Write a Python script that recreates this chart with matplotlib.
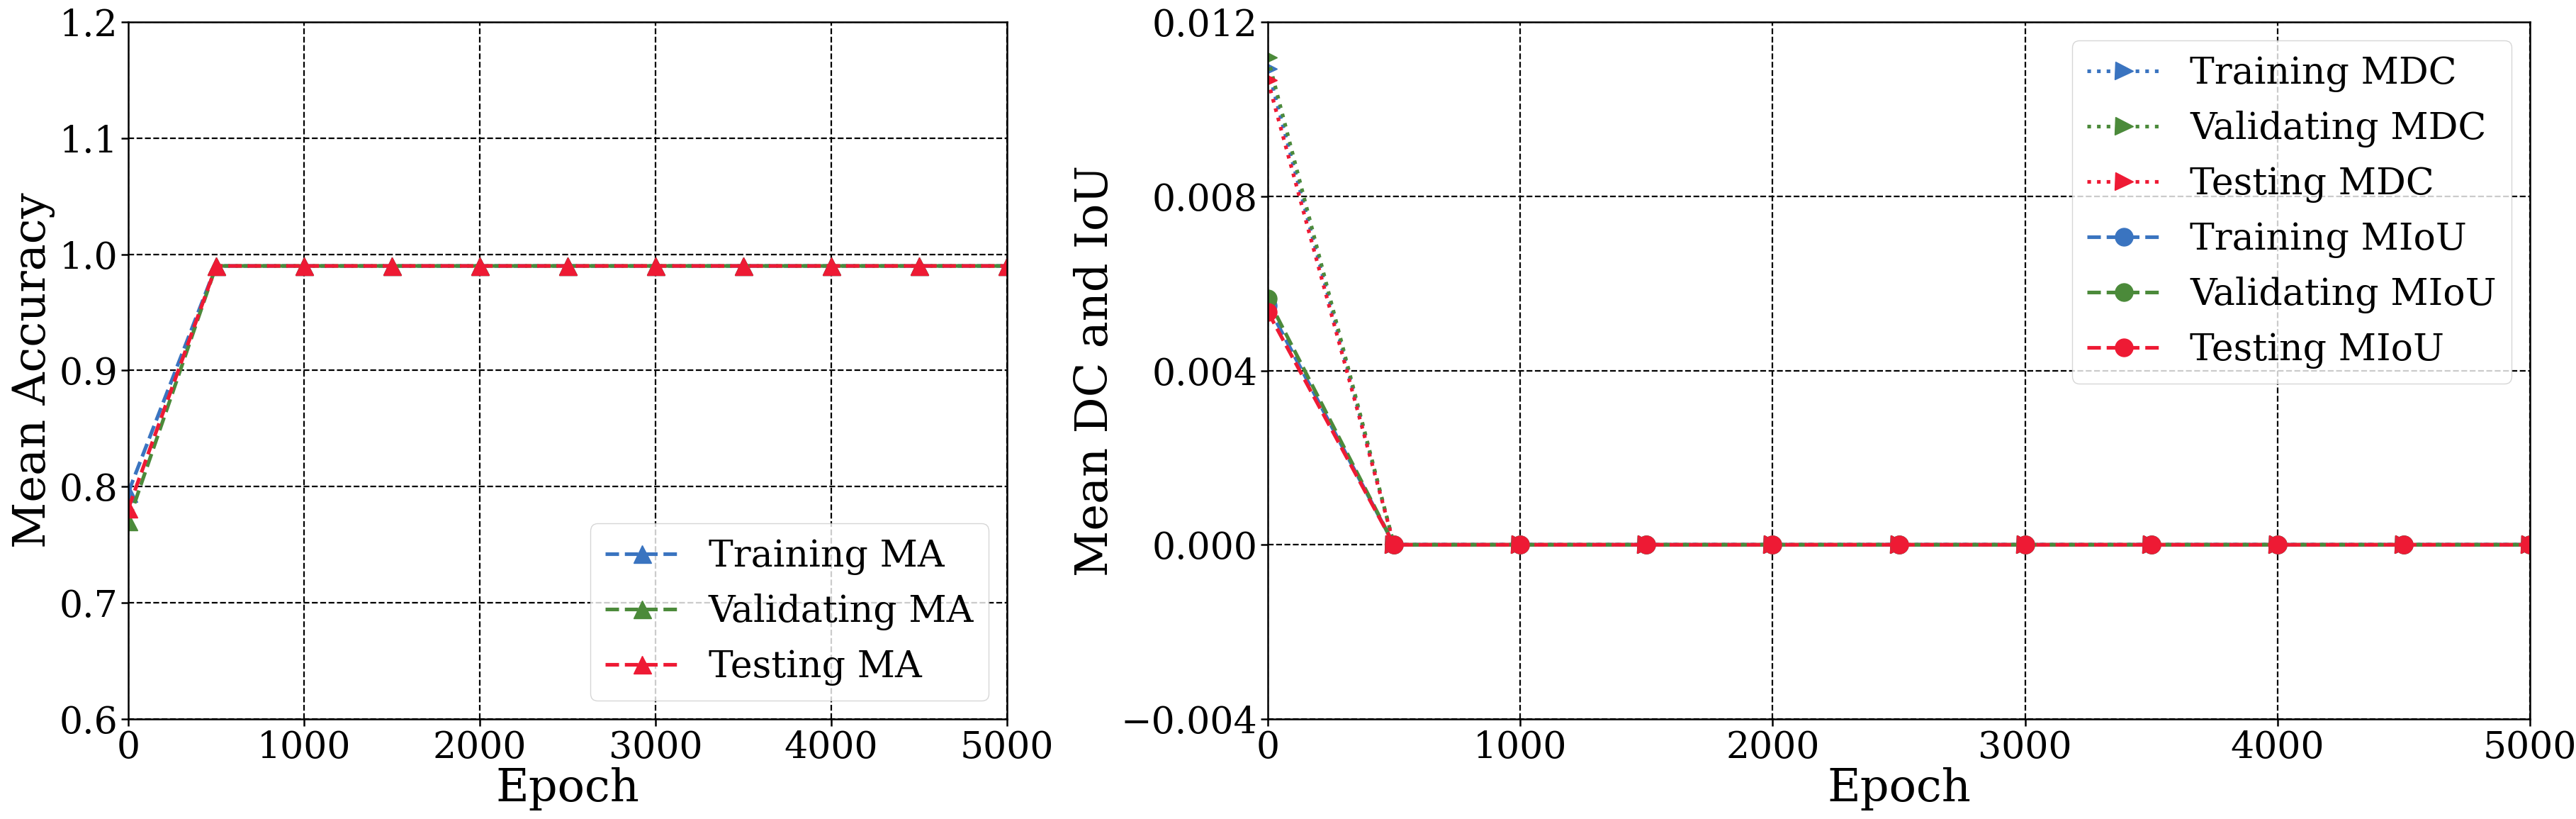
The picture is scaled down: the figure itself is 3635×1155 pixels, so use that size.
import matplotlib
matplotlib.use("Agg")
import matplotlib.pyplot as plt

plt.rcParams['font.family'] = ['DejaVu Serif']

epochs = [0, 500, 1000, 1500, 2000, 2500, 3000, 3500, 4000, 4500, 5000]

train_ma = [0.795, 0.99, 0.99, 0.99, 0.99, 0.99, 0.99, 0.99, 0.99, 0.99, 0.99]
val_ma = [0.770, 0.99, 0.99, 0.99, 0.99, 0.99, 0.99, 0.99, 0.99, 0.99, 0.99]
test_ma = [0.781, 0.99, 0.99, 0.99, 0.99, 0.99, 0.99, 0.99, 0.99, 0.99, 0.99]

train_mdc = [0.01093, 0, 0, 0, 0, 0, 0, 0, 0, 0, 0]
val_mdc = [0.01118, 0, 0, 0, 0, 0, 0, 0, 0, 0, 0]
test_mdc = [0.01066, 0, 0, 0, 0, 0, 0, 0, 0, 0, 0]

train_miou = [0.00549, 0, 0, 0, 0, 0, 0, 0, 0, 0, 0]
val_miou = [0.00565, 0, 0, 0, 0, 0, 0, 0, 0, 0, 0]
test_miou = [0.00535, 0, 0, 0, 0, 0, 0, 0, 0, 0, 0]

C_BLUE = '#3a74c0'
C_GREEN = '#4b8a3a'
C_RED = '#ee1a34'

LW = 3.7
MS = 18
TICK_FS = 37.5
LABEL_FS = 46
LEG_FS = 37.5

fig = plt.figure(figsize=(36.35, 11.55), dpi=100)
ax1 = fig.add_axes([181/3635, 1 - 1014/1155, (1421-181)/3635, (1014-31)/1155])
ax2 = fig.add_axes([1789/3635, 1 - 1014/1155, (3570-1789)/3635, (1014-31)/1155])

for ax in (ax1, ax2):
    ax.grid(True, color='black', linestyle='--', linewidth=1.6, zorder=0)
    ax.set_axisbelow(True)
    for s in ax.spines.values():
        s.set_linewidth(1.8)
    ax.tick_params(axis='both', labelsize=TICK_FS, length=7, width=1.8)

# Left plot
ax1.plot(epochs, train_ma, linestyle='--', marker='^', color=C_BLUE, lw=LW, ms=MS, label='Training MA')
ax1.plot(epochs, val_ma, linestyle='--', marker='^', color=C_GREEN, lw=LW, ms=MS, label='Validating MA')
ax1.plot(epochs, test_ma, linestyle='--', marker='^', color=C_RED, lw=LW, ms=MS, label='Testing MA')
ax1.set_xlim(0, 5000)
ax1.set_ylim(0.6, 1.2)
ax1.set_xticks([0, 1000, 2000, 3000, 4000, 5000])
ax1.set_yticks([0.6, 0.7, 0.8, 0.9, 1.0, 1.1, 1.2])
ax1.set_xlabel('Epoch', fontsize=LABEL_FS, labelpad=2)
ax1.set_ylabel('Mean Accuracy', fontsize=LABEL_FS)
ax1.legend(loc='lower right', fontsize=LEG_FS)

# Right plot
ax2.plot(epochs, train_mdc, linestyle=':', marker='>', color=C_BLUE, lw=LW, ms=MS, label='Training MDC')
ax2.plot(epochs, val_mdc, linestyle=':', marker='>', color=C_GREEN, lw=LW, ms=MS, label='Validating MDC')
ax2.plot(epochs, test_mdc, linestyle=':', marker='>', color=C_RED, lw=LW, ms=MS, label='Testing MDC')
ax2.plot(epochs, train_miou, linestyle='--', marker='o', color=C_BLUE, lw=LW, ms=MS, label='Training MIoU')
ax2.plot(epochs, val_miou, linestyle='--', marker='o', color=C_GREEN, lw=LW, ms=MS, label='Validating MIoU')
ax2.plot(epochs, test_miou, linestyle='--', marker='o', color=C_RED, lw=LW, ms=MS, label='Testing MIoU')
ax2.set_xlim(0, 5000)
ax2.set_ylim(-0.004, 0.012)
ax2.set_xticks([0, 1000, 2000, 3000, 4000, 5000])
ax2.set_yticks([-0.004, 0.0, 0.004, 0.008, 0.012])
ax2.set_xlabel('Epoch', fontsize=LABEL_FS, labelpad=2)
ax2.set_ylabel('Mean DC and IoU', fontsize=LABEL_FS)
ax2.legend(loc='upper right', fontsize=LEG_FS)

fig.savefig('out.png', dpi=100)
